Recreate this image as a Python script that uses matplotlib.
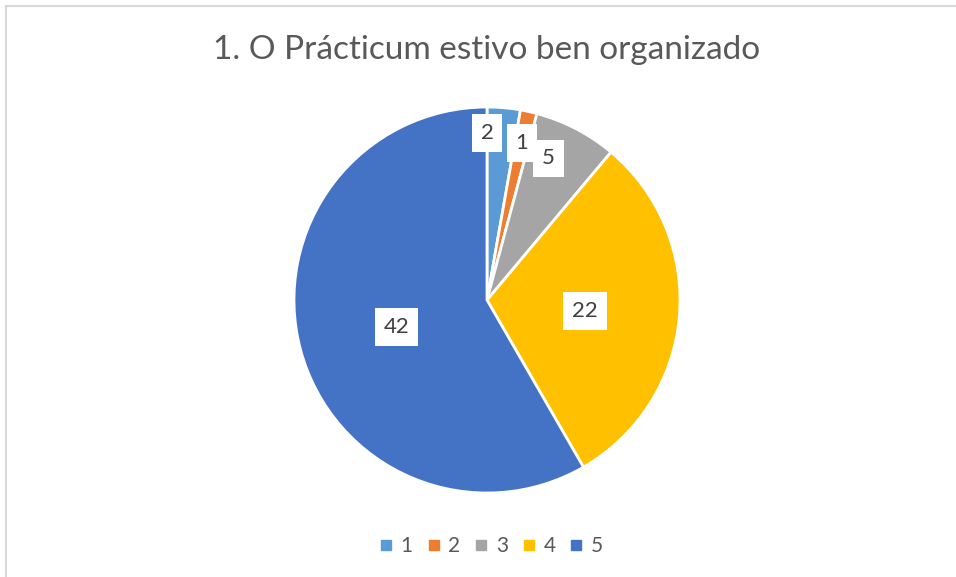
import numpy as np
import matplotlib.pyplot as plt
from matplotlib.lines import Line2D

plt.rcParams['font.family'] = ['Lato', 'DejaVu Sans']

# data
categories = ['1', '2', '3', '4', '5']
counts = [2, 1, 5, 22, 42]
colors = ['#5B9BD5', '#ED7D31', '#A5A5A5', '#FFC000', '#4472C4']
title = '1. O Prácticum estivo ben organizado'

# label placement (fraction of radius, angle nudge in degrees, counter-clockwise)
lab_frac = [0.865, 0.835, 0.80, 0.51, 0.49]
lab_nudge = [5.0, 0.0, 4.0, -1.4, 1.7]

W, H = 956, 577
fig = plt.figure(figsize=(W / 100, H / 100), dpi=100)
ax = fig.add_axes([0, 0, 1, 1])

cx, cy, r = 487, H - 300, 193
wedges, _ = ax.pie(counts, colors=colors, startangle=90, counterclock=False,
                   center=(cx, cy), radius=r, frame=True,
                   wedgeprops=dict(edgecolor='white', linewidth=2))
ax.set_xlim(0, W)
ax.set_ylim(0, H)
ax.set_aspect('equal')
ax.axis('off')

# chart border (only top/left visible)
ax.plot([6.5, 6.5], [0, H - 6], color='#D9D9D9', lw=1.5)
ax.plot([6.5, W], [H - 6, H - 6], color='#D9D9D9', lw=1.5)

for w, v, f, nd in zip(wedges, counts, lab_frac, lab_nudge):
    ang = np.deg2rad((w.theta1 + w.theta2) / 2 + nd)
    x = cx + r * f * np.cos(ang)
    y = cy + r * f * np.sin(ang)
    ax.text(x, y, str(v), ha='center', va='center', fontsize=16, color='#404040',
            bbox=dict(boxstyle='square,pad=0.4', fc='white', ec='none'))

ax.text(cx, H - 50, title, ha='center', va='center', fontsize=24, color='#595959')

handles = [Line2D([], [], marker='s', ls='none', markersize=7.2, color=c) for c in colors]
leg = fig.legend(handles, categories, loc='center', bbox_to_anchor=(492 / W, 1 - 546 / H),
                 ncol=5, frameon=False, fontsize=15, handlelength=0.5, handletextpad=0.45,
                 columnspacing=0.75)
for t in leg.get_texts():
    t.set_color('#595959')

fig.savefig('out.png', dpi=100, facecolor='white')
